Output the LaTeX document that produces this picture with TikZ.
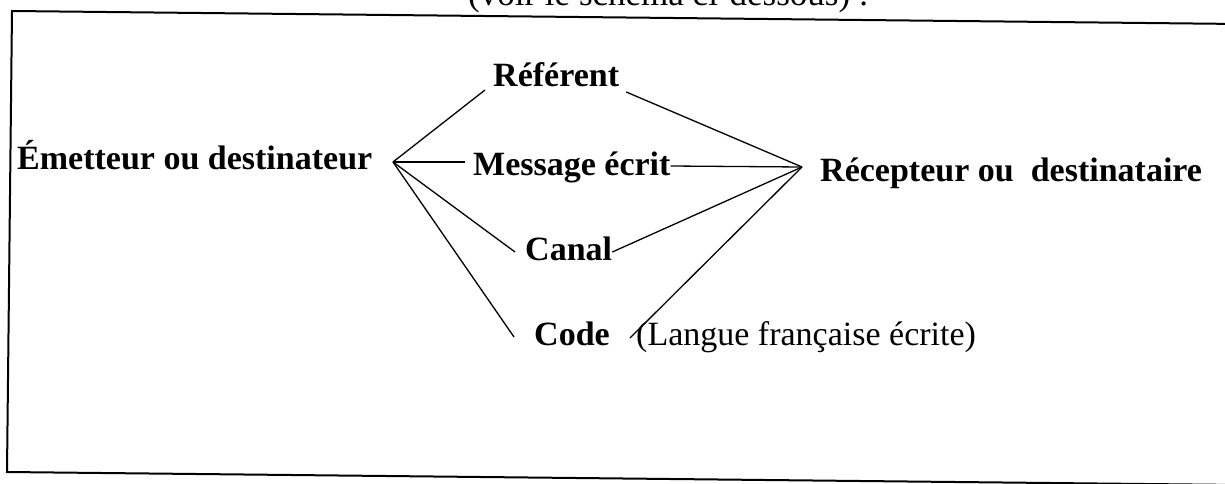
\documentclass[tikz,border=0pt]{standalone}
\usepackage{fontspec}
\setmainfont{Liberation Serif}
\usetikzlibrary{calc}
\begin{document}
\begin{tikzpicture}[x=1pt,y=-1pt,
  lbl/.style={inner sep=0pt,anchor=base west,font=\fontsize{34}{40}\selectfont\bfseries},
  plain/.style={inner sep=0pt,anchor=base west,font=\fontsize{34}{40}\selectfont},
  conn/.style={line width=1.3pt,black},
  frame/.style={line width=2pt,black}]
\useasboundingbox (0,0) rectangle (1225,484);
\clip (0,0) rectangle (1225,484);
% partially visible heading line above the frame
\node[plain,font=\fontsize{35}{40}\selectfont] (head) at (468,6) {(voir le schéma ci-dessous) :};
% frame
\draw[frame] (1240,24) -- (12,11) -- (7,472) -- (1240,485);
% nodes
\node[lbl] (em) at (17,169) {Émetteur ou destinateur};
\node[lbl] (ref) at (493,87) {Référent};
\node[lbl] (msg) at (473,175) {Message écrit};
\node[lbl] (canal) at (525,260) {Canal};
\node[lbl] (code) at (534,345) {Code};
\node[plain] (lang) at (636,345) {(Langue française écrite)};
\node[lbl] (rec) at (820,181) {Récepteur ou\ \ destinataire};
% hubs
\coordinate (L) at (393,162);
\coordinate (R) at (802,167);
% left fan
\draw[conn] (L) -- ($(ref.base west)+(-8,3)$);
\draw[conn] (L) -- ($(msg.base west)+(-8,-13)$);
\draw[conn] (L) -- ($(canal.base west)+(-10,-8)$);
\draw[conn] (L) -- ($(code.base west)+(-20,-8)$);
% right fan
\draw[conn] ($(ref.base east)+(7,5)$) -- (R);
\draw[conn] ($(msg.base east)+(0,-9)$) -- (R);
\draw[conn] ($(canal.base east)+(0,-8)$) -- (R);
\draw[conn] ($(lang.base west)+(-6,-7)$) -- (R);
\end{tikzpicture}
\end{document}
